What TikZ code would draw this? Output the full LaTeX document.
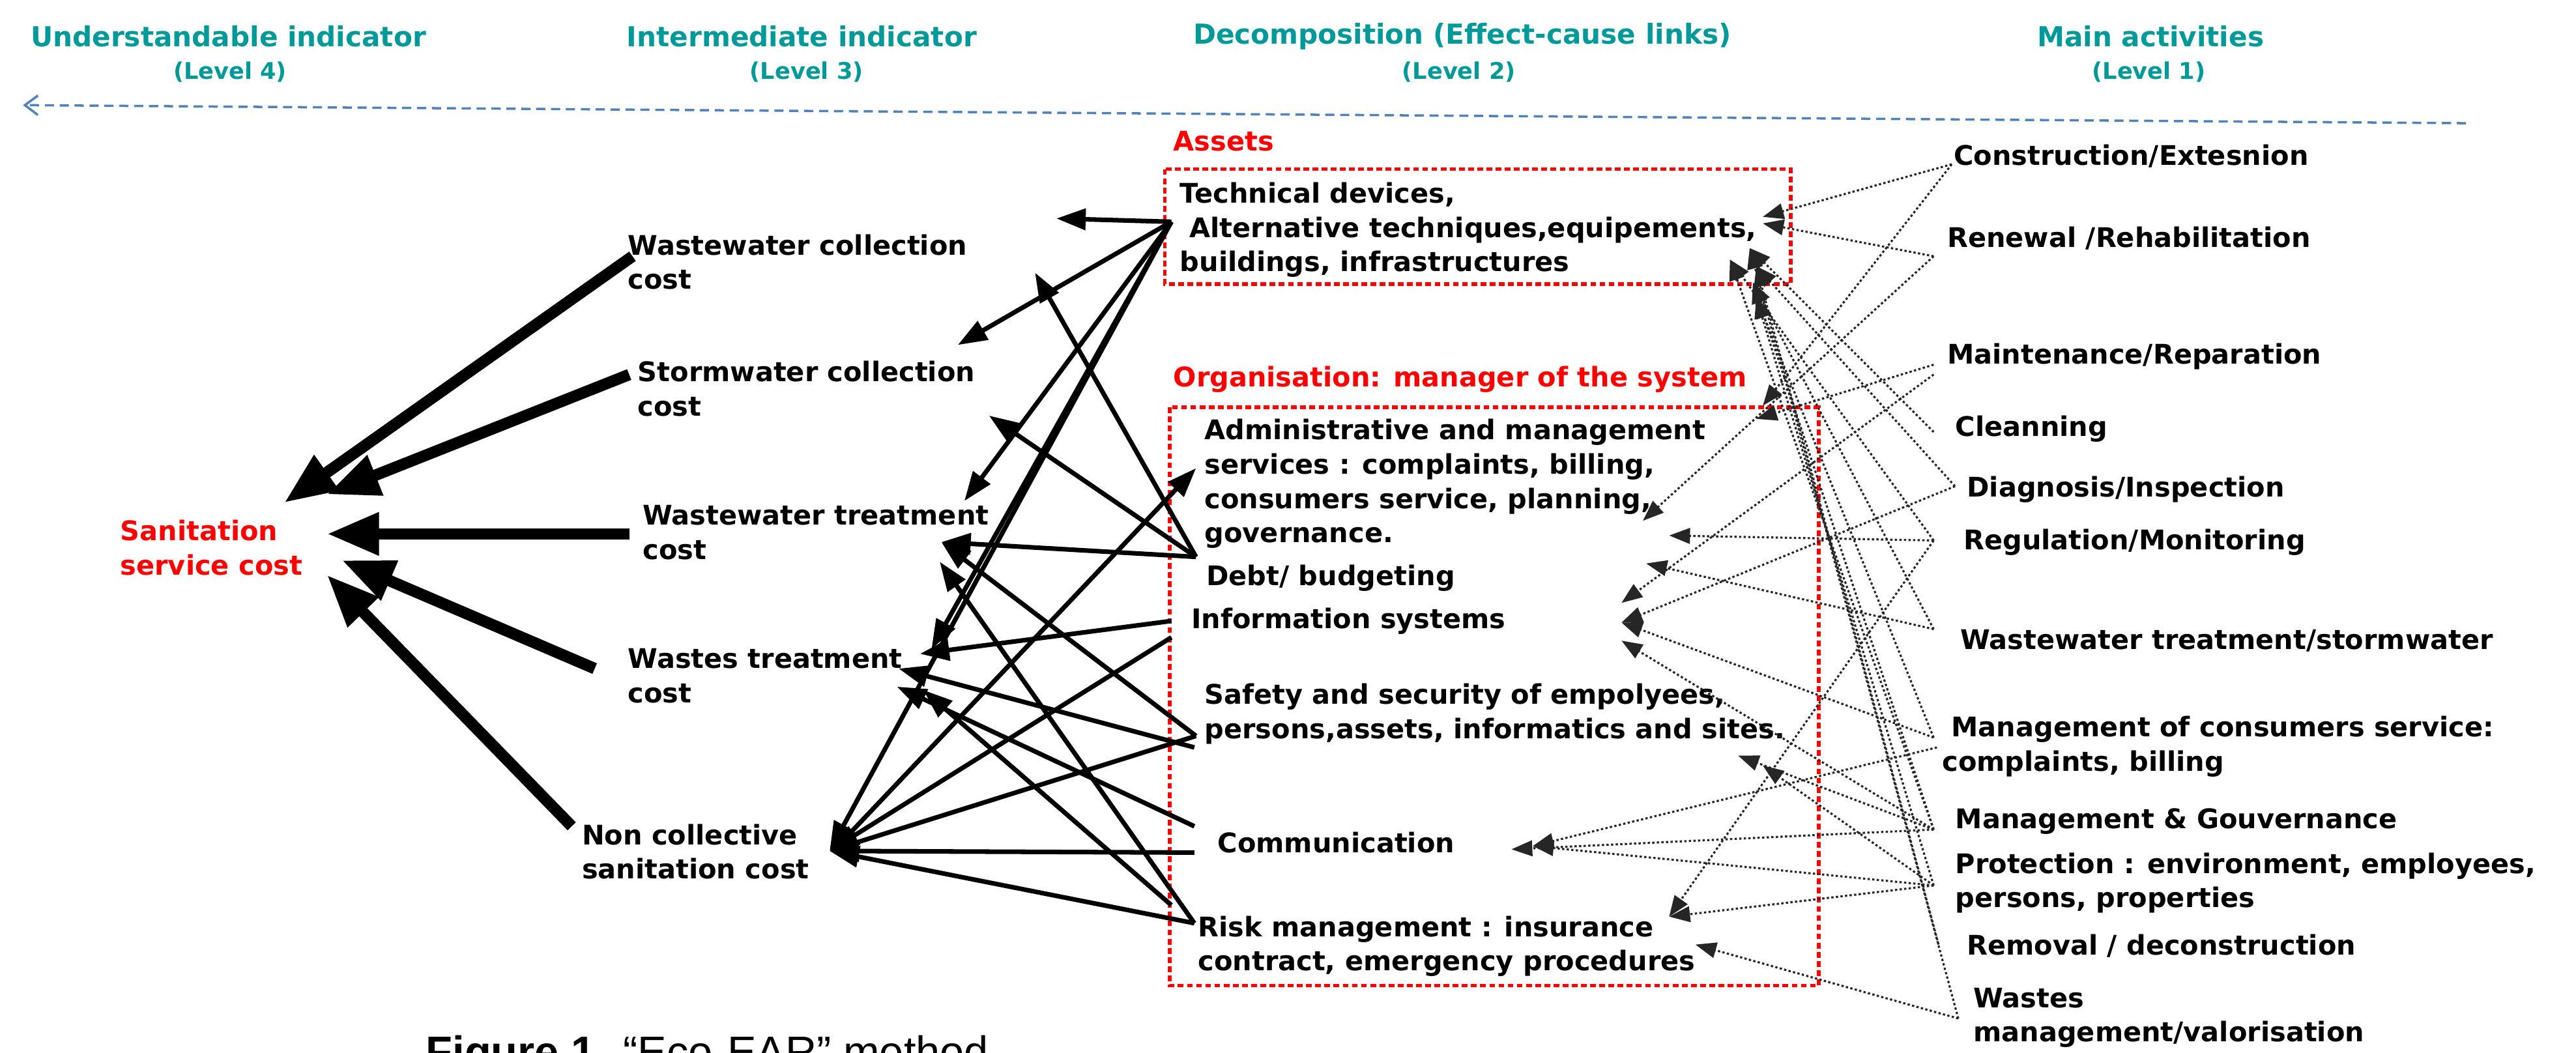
\documentclass[tikz,border=0pt]{standalone}
\usepackage{fontspec}
\setmainfont{DejaVu Sans}
\newfontfamily\capfont{Liberation Sans}
\usepackage{tikz}
\usetikzlibrary{arrows.meta,positioning}
\definecolor{levelteal}{RGB}{0,153,153}
\definecolor{axisblue}{RGB}{79,129,189}
\tikzset{%
    txt/.style={font=\fontsize{11.8}{15}\selectfont\bfseries, align=left, anchor=west, inner sep=0pt},
    redtxt/.style={txt, text=red},
    level/.style={font=\fontsize{12}{15}\selectfont\bfseries, text=levelteal, inner sep=0pt},
    levelno/.style={font=\fontsize{10}{12}\selectfont\bfseries, text=levelteal, inner sep=0pt},
    bigarrow/.style={line width=5pt, -{Triangle[length=0.8cm,width=0.62cm]}},
    causearrow/.style={line width=2pt, -{Triangle[length=0.45cm,width=0.32cm]}},
    linkarrow/.style={line width=0.9pt, draw=black!85, dash pattern=on 1pt off 1pt,
        -{Triangle[length=0.32cm,width=0.24cm]}},
    groupbox/.style={draw=red, line width=1.6pt, dash pattern=on 2.5pt off 1.5pt},
    axis/.style={draw=axisblue, line width=1pt, dash pattern=on 4pt off 2.5pt,
        -{Straight Barb[length=0.2cm,width=0.3cm]}}
}
\begin{document}
\begin{tikzpicture}[x=0.02521cm,y=-0.02521cm]
    \useasboundingbox (0,0) rectangle (1568,641);
    % levels
    \node[level] (h4) at (139,22) {Understandable indicator};
    \node[levelno] (l4) at (140,44) {(Level 4)};
    \node[level] (h3) at (488,22) {Intermediate indicator};
    \node[levelno] (l3) at (491,44) {(Level 3)};
    \node[level] (h2) at (890,22) {Decomposition (Effect-cause links)};
    \node[levelno] (l2) at (888,44) {(Level 2)};
    \node[level] (h1) at (1309,22) {Main activities};
    \node[levelno] (l1) at (1308,44) {(Level 1)};
    \coordinate (axisR) at (1501,75);
    \coordinate (axisL) at (14,64);
    \draw[axis] (axisR) -- (axisL);

    % level 4 and 3
    \node[redtxt] (sanit) at (73,333.5) {Sanitation\\service cost};
    \node[txt] (wcoll) at (382,159.5) {Wastewater collection\\cost};
    \node[txt] (scoll) at (388,236.5) {Stormwater collection\\cost};
    \node[txt] (wtreat) at (391,324) {Wastewater treatment\\cost};
    \node[txt] (wastes) at (382,411.5) {Wastes treatment\\cost};
    \node[txt] (noncoll) at (354,518.5) {Non collective\\sanitation cost};

    % level 2
    \node[redtxt] (assets) at (714,86) {Assets};
    \node[redtxt] (orglbl) at (714,231) {Organisation: manager of the system};
    \draw[groupbox] (709,103) rectangle (1090,173);
    \draw[groupbox] (712,248) rectangle (1107,600);
    \node[txt] (tech) at (718,140) {Technical devices,\\\hspace{0.35em}Alternative techniques,equipements,\\buildings, infrastructures};
    \node[txt] (admin) at (733,294.5) {Administrative and management\\services : complaints, billing,\\consumers service, planning,\\governance.};
    \node[txt] (debt) at (734,352) {Debt/ budgeting};
    \node[txt] (info) at (725,378) {Information systems};
    \node[txt] (safety) at (733,434.5) {Safety and security of empolyees,\\persons,assets, informatics and sites.};
    \node[txt] (comm) at (741,513) {Communication};
    \node[txt] (risk) at (729,576) {Risk management : insurance\\contract, emergency procedures};

    % level 1
    \node[txt] (constr) at (1189,95) {Construction/Extesnion};
    \node[txt] (renew) at (1185,145) {Renewal /Rehabilitation};
    \node[txt] (maint) at (1185,217) {Maintenance/Reparation};
    \node[txt] (clean) at (1190,261) {Cleanning};
    \node[txt] (diag) at (1197,298) {Diagnosis/Inspection};
    \node[txt] (regul) at (1195,330) {Regulation/Monitoring};
    \node[txt] (wwstorm) at (1193,390) {Wastewater treatment/stormwater};
    \node[txt] (mcons) at (1182,454.5) {\hspace{4pt}Management of consumers service:\\complaints, billing};
    \node[txt] (mgov) at (1190,500) {Management \& Gouvernance};
    \node[txt] (protect) at (1190,537.5) {Protection : environment, employees,\\persons, properties};
    \node[txt] (removal) at (1197,576) {Removal / deconstruction};
    \node[txt] (wastesm) at (1201,619.5) {Wastes\\management/valorisation};

    % level 3 -> level 4
    \coordinate (wcoll-o) at (385,156);   \coordinate (sanit-1) at (173,306);
    \coordinate (scoll-o) at (383,228);   \coordinate (sanit-2) at (199,301);
    \coordinate (wtreat-o) at (383,325);  \coordinate (sanit-3) at (199,325);
    \coordinate (wastes-o) at (362,407);  \coordinate (sanit-4) at (208,341);
    \coordinate (noncoll-o) at (348,503); \coordinate (sanit-5) at (199,350);
    \draw[bigarrow] (wcoll-o) -- (sanit-1);
    \draw[bigarrow] (scoll-o) -- (sanit-2);
    \draw[bigarrow] (wtreat-o) -- (sanit-3);
    \draw[bigarrow] (wastes-o) -- (sanit-4);
    \draw[bigarrow] (noncoll-o) -- (sanit-5);

    % level 2 -> level 3
    \coordinate (pT) at (713,135);   \coordinate (pAd) at (728,285);
    \coordinate (pDe) at (728,339);
    \coordinate (pIn1) at (713,378); \coordinate (pIn2) at (713,388);
    \coordinate (pSa1) at (728,448); \coordinate (pSa2) at (727,455);
    \coordinate (pCo1) at (727,503); \coordinate (pCo2) at (727,519);
    \coordinate (pRi1) at (713,551); \coordinate (pRi2) at (727,562);
    \coordinate (qL) at (643,133);   \coordinate (qWC) at (630,166);
    \coordinate (qSC) at (583,210);  \coordinate (qSC2) at (602,253);
    \coordinate (qWT) at (587,305);  \coordinate (qWT2) at (573,330);
    \coordinate (qWT3) at (572,342); \coordinate (qWs5) at (567,395);
    \coordinate (qWs1) at (560,398); \coordinate (qWs2) at (547,407);
    \coordinate (qWs3) at (546,418); \coordinate (qWs4) at (562,420);
    \coordinate (qNC) at (505,518);  \coordinate (qNCo) at (510,515);
    \foreach \a/\b in {pT/qL, pT/qSC, pT/qWT, pT/qWs5, pT/qNC,
        pDe/qWC, pDe/qSC2, pDe/qWT2, pIn1/qWs1, pIn2/qNC,
        pSa1/qWT2, pSa2/qWs2, pSa1/qNC, pCo1/qWs3, pCo2/qNC,
        pRi1/qWs4, pRi2/qNC, pRi2/qWT3, qNCo/pAd}
        \draw[causearrow] (\a) -- (\b);

    % level 1 -> level 2
    \coordinate (s1) at (1188,100);  \coordinate (s2) at (1177,156);
    \coordinate (s3) at (1177,222);  \coordinate (s3b) at (1177,228);
    \coordinate (s4) at (1177,263);  \coordinate (s5) at (1190,296);
    \coordinate (s6) at (1177,329);  \coordinate (s7) at (1177,383);
    \coordinate (s8) at (1177,449);  \coordinate (s8b) at (1179,455);
    \coordinate (s9) at (1177,505);  \coordinate (s10) at (1177,539);
    \coordinate (s11) at (1180,575); \coordinate (s12) at (1192,620);
    \coordinate (a1) at (1073,132);  \coordinate (a1b) at (1073,136);
    \coordinate (a2) at (1065,151);  \coordinate (a3) at (1053,158);
    \coordinate (a4) at (1069,162);  \coordinate (a5) at (1067,172);
    \coordinate (a6) at (1069,181);
    \coordinate (b1) at (1073,247);  \coordinate (b2) at (1069,255);
    \coordinate (c1) at (1000,317);  \coordinate (c2) at (1016,326);
    \coordinate (d1) at (1002,343);  \coordinate (d2) at (987,367);
    \coordinate (d3) at (987,379);   \coordinate (d4) at (987,390);
    \coordinate (e1) at (1058,460);  \coordinate (e2) at (1073,466);
    \coordinate (f1) at (920,517);   \coordinate (f2) at (933,515);
    \coordinate (g1) at (1016,558);  \coordinate (g2) at (1032,575);
    \foreach \a/\b in {s1/a1, s1/b1, s2/a1b, s2/c1, s3/b2, s3b/d2, s4/a2,
        s5/a4, s5/d3, s6/c2, s6/a3, s6/g1, s7/a5, s7/d1, s8/d3, s8b/f2,
        s8/a6, s9/d4, s9/e1, s9/f1, s9/a5, s9/a3, s10/e2, s10/f2, s10/g1,
        s10/a6, s11/a4, s12/g2, s12/a2}
        \draw[linkarrow] (\a) -- (\b);

    % caption
    \node[anchor=north west, inner sep=0pt, font=\capfont\fontsize{19}{22}\selectfont] (caption) at (259,630) {\textbf{Figure 1.} “Eco-EAR” method};
\end{tikzpicture}
\end{document}
